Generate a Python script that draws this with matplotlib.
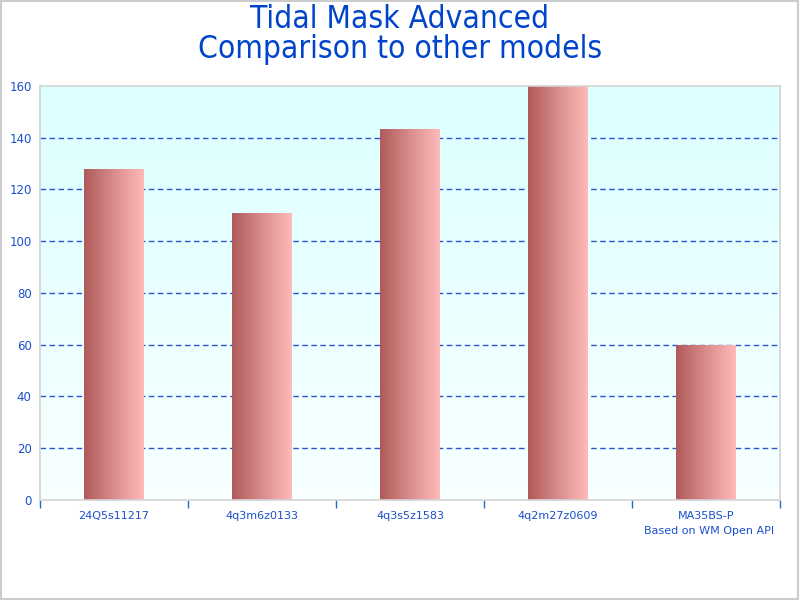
import matplotlib
matplotlib.use("Agg")
import matplotlib.pyplot as plt
import matplotlib.patches as patches
from matplotlib.colors import LinearSegmentedColormap
import numpy as np

models = ["24Q5s11217", "4q3m6z0133", "4q3s5z1583", "4q2m27z0609", "MA35BS-P"]
values = [128, 111, 143.4, 160, 60]
yticks = [0, 20, 40, 60, 80, 100, 120, 140, 160]

blue = "#1a4fcc"
bar_cmap = LinearSegmentedColormap.from_list("bar", ["#b05a5a", "#d98c8c", "#ffbaba"])
bg_cmap = LinearSegmentedColormap.from_list("bg", ["#f8ffff", "#dcffff"])

fig = plt.figure(figsize=(8, 6), dpi=100)
fig.patches.append(patches.Rectangle((0.001, 0.002), 0.997, 0.996, transform=fig.transFigure,
                                     fill=False, edgecolor="#cccccc", linewidth=1.5))
ax = fig.add_axes([0.05, 0.1667, 0.925, 0.69])

# background gradient
grad = np.linspace(0, 1, 256).reshape(-1, 1)
ax.imshow(grad, cmap=bg_cmap, aspect="auto", extent=[0, 1, 0, 1], origin="lower",
          transform=ax.transAxes, zorder=0)

x = np.arange(len(models))
bars = ax.bar(x, values, width=0.405, color="none", zorder=3)
hgrad = np.linspace(0, 1, 256).reshape(1, -1)
for b in bars:
    im = ax.imshow(hgrad, cmap=bar_cmap, aspect="auto",
                   extent=[b.get_x(), b.get_x() + b.get_width(), 0, b.get_height()],
                   zorder=3)
    im.set_clip_path(b)

ax.set_xlim(-0.5, len(models) - 0.5)
ax.set_ylim(0, 160)
ax.set_yticks(yticks)
# dashed grid lines, skipping the ones on the frame
for yv in yticks[1:-1]:
    ax.axhline(yv, linestyle=(0, (4, 2.5)), color="#2a55cc", linewidth=1, zorder=1)

ax.set_xticks(np.arange(len(models) + 1) - 0.5)
ax.set_xticklabels([])
ax.set_xticks(x, minor=True)
ax.set_xticklabels(models, minor=True)
ax.tick_params(axis="x", which="major", direction="out", length=6, color="#2266cc", width=1)
ax.tick_params(axis="x", which="minor", length=0, pad=8, labelsize=8, labelcolor=blue)
ax.tick_params(axis="y", length=0, pad=6, labelsize=8.5, labelcolor=blue)

for s in ax.spines.values():
    s.set_color("#d4d4d4")
    s.set_linewidth(1.2)
    s.set_zorder(4)

fig.text(0.5, 0.968, "Tidal Mask Advanced", ha="center", va="center",
         fontsize=22.7, color="#0044cc", fontstretch="condensed")
fig.text(0.5, 0.918, "Comparison to other models", ha="center", va="center",
         fontsize=22.7, color="#0044cc", fontstretch="condensed")
fig.text(0.968, 0.115, "Based on WM Open API", ha="right", va="center",
         fontsize=8, color=blue)

fig.savefig("out.png", dpi=100)
